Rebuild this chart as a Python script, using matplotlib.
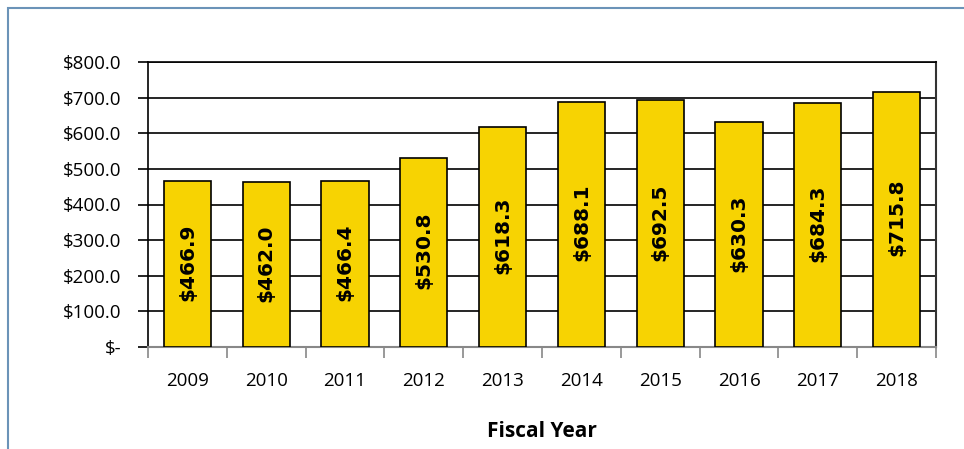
import matplotlib.pyplot as plt
from matplotlib.patches import Rectangle
import numpy as np

# Spending by fiscal year ($ millions)
years = ["2009", "2010", "2011", "2012", "2013", "2014", "2015", "2016", "2017", "2018"]
amounts = [466.9, 462.0, 466.4, 530.8, 618.3, 688.1, 692.5, 630.3, 684.3, 715.8]
yticks = [0, 100, 200, 300, 400, 500, 600, 700, 800]

plt.rcParams['font.family'] = ['Open Sans', 'DejaVu Sans']

W, H = 964, 449
fig = plt.figure(figsize=(W / 100, H / 100), dpi=100)

# plot area in pixel coords
left, right, top, bottom = 148, 936, 62, 347
ax = fig.add_axes([left / W, 1 - bottom / H, (right - left) / W, (bottom - top) / H])

x = np.arange(len(years))
ax.bar(x, amounts, width=0.6, color="#F7D302", edgecolor="black", linewidth=1.2, zorder=3)

for xi, v in zip(x, amounts):
    ax.text(xi, v / 2 + 5, f"${v:.1f}", rotation=90, ha="center", va="center",
            fontsize=14.5, fontweight="bold", family="DejaVu Sans", color="black", zorder=4)

ax.set_xlim(-0.5, len(years) - 0.5)
ax.set_ylim(0, 800)
ax.set_yticks(yticks)
ax.set_yticklabels(["$-" if t == 0 else f"${t:.1f}" for t in yticks], fontsize=13.5)
ax.grid(axis="y", color="black", linewidth=1.2, zorder=0)

# category ticks sit between bars
ax.set_xticks(x)
ax.set_xticklabels(years, fontsize=13.5)
ax.tick_params(axis="x", length=0, pad=18)
ax.set_xticks(np.arange(len(years) + 1) - 0.5, minor=True)
ax.tick_params(axis="x", which="minor", length=8, color="#888888", width=1.2, direction="out")
ax.tick_params(axis="y", length=7, width=1.2, color="black", pad=12)

for s in ["left", "top"]:
    ax.spines[s].set_color("black")
    ax.spines[s].set_linewidth(1.2)
ax.spines["right"].set_color("#333333")
ax.spines["right"].set_linewidth(1.5)
ax.spines["bottom"].set_color("#888888")
ax.spines["bottom"].set_linewidth(1.5)

ax.set_xlabel("Fiscal Year", fontsize=15, fontweight="bold", labelpad=22)

# outer chart frame
fig.add_artist(Rectangle((8 / W, -0.1), 1.2, 1 - 8 / H + 0.1, transform=fig.transFigure,
                         fill=False, edgecolor="#6B93B8", linewidth=1.5))

fig.savefig("out.png", dpi=100)
